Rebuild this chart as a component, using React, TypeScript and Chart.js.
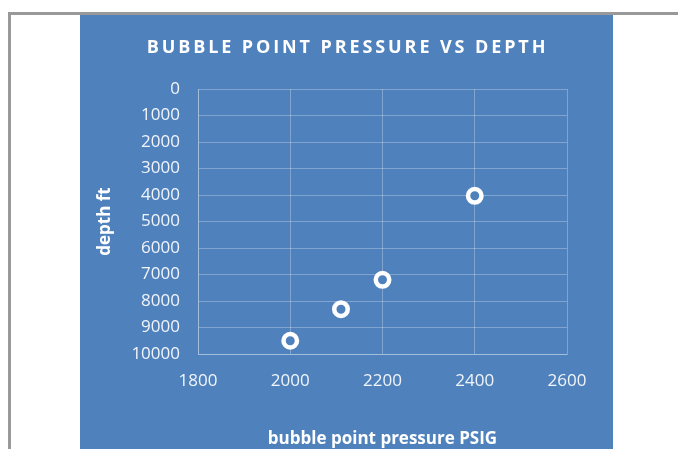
import React, { useEffect, useRef } from "react";
import { Chart, registerables } from "chart.js";

Chart.register(...registerables);

const chartTitle = "BUBBLE POINT PRESSURE VS DEPTH";
const xAxisTitle = "bubble point pressure PSIG";
const yAxisTitle = "depth ft";
const pressure = [2000, 2110, 2200, 2400];
const depth = [9500, 8310, 7200, 4030];

const BLUE = "#4F81BD";
const GRID = "rgba(255,255,255,0.28)";
const FONT = "'Open Sans', 'DejaVu Sans', sans-serif";

const titlePlugin = {
  id: "spacedTitle",
  afterDraw(chart: any) {
    const ctx = chart.ctx;
    ctx.save();
    ctx.fillStyle = "#ffffff";
    ctx.font = `bold 18px ${FONT}`;
    (ctx as any).letterSpacing = "2.9px";
    ctx.textAlign = "center";
    ctx.textBaseline = "middle";
    ctx.fillText(chartTitle, chart.width / 2 + 1, 33);
    ctx.restore();
  },
};

export default function App() {
  const ref = useRef<HTMLCanvasElement | null>(null);
  useEffect(() => {
    document.body.style.margin = "0";
    if (!ref.current) return;
    const chart = new Chart(ref.current, {
      type: "scatter",
      data: {
        datasets: [
          {
            label: "depth",
            data: pressure.map((p, i) => ({ x: p, y: depth[i] })),
            pointRadius: 6.75,
            pointBorderWidth: 4.5,
            pointBackgroundColor: BLUE,
            pointBorderColor: "#ffffff",
            pointHoverRadius: 6.75,
          },
        ],
      },
      options: {
        animation: false,
        responsive: false,
        maintainAspectRatio: false,
        layout: { padding: { left: 15, right: 46, top: 74, bottom: 0 } },
        plugins: {
          legend: { display: false },
          title: { display: false },
          tooltip: { enabled: false },
        },
        scales: {
          x: {
            type: "linear",
            min: 1800,
            max: 2600,
            afterFit: (s: any) => {
              s.height = 95;
            },
            ticks: {
              stepSize: 200,
              color: "rgba(255,255,255,0.92)",
              font: { family: FONT, size: 17 },
              padding: 17,
              callback: (v: any) => String(v),
            },
            grid: { color: GRID, drawTicks: false, lineWidth: 1 },
            border: { color: GRID },
            title: {
              display: true,
              text: xAxisTitle,
              color: "#ffffff",
              font: { family: FONT, size: 17, weight: "bold" },
              padding: { top: 29, bottom: 0 },
            },
          },
          y: {
            type: "linear",
            reverse: true,
            min: 0,
            max: 10000,
            afterFit: (s: any) => {
              s.width = 103;
            },
            ticks: {
              stepSize: 1000,
              color: "rgba(255,255,255,0.92)",
              font: { family: FONT, size: 17 },
              padding: 18,
              callback: (v: any) => String(v),
            },
            grid: { color: GRID, drawTicks: false, lineWidth: 1 },
            border: { color: GRID },
            title: {
              display: true,
              text: yAxisTitle,
              color: "#ffffff",
              font: { family: FONT, size: 17, weight: "bold" },
              padding: { top: 0, bottom: 0 },
            },
          },
        },
      },
      plugins: [titlePlugin],
    });
    return () => chart.destroy();
  }, []);

  return (
    <div style={{ position: "relative", width: 678, height: 449, overflow: "hidden", background: "#fff" }}>
      <div style={{ position: "absolute", left: 8, top: 12, width: 3, height: 437, background: "#999999" }} />
      <div style={{ position: "absolute", left: 8, top: 12, width: 670, height: 3, background: "#999999" }} />
      <div style={{ position: "absolute", left: 80, top: 15, width: 533, height: 434, background: BLUE }}>
        <canvas ref={ref} width={533} height={434} style={{ display: "block", width: 533, height: 434 }} />
      </div>
    </div>
  );
}
